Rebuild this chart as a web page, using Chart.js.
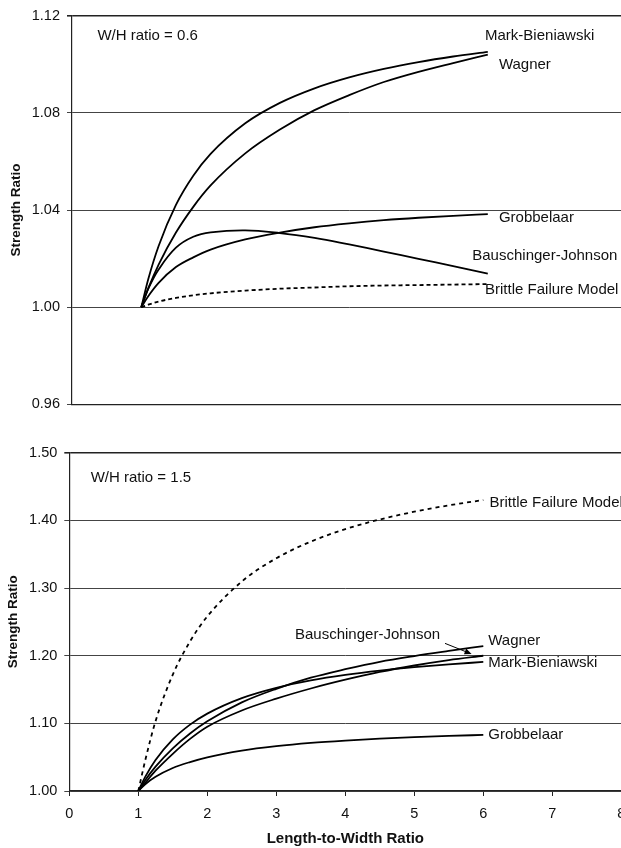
<!DOCTYPE html>
<html>
<head>
<meta charset="utf-8">
<script src="https://cdn.jsdelivr.net/npm/chart.js@4.4.0/dist/chart.umd.min.js"></script>
<style>
html,body{margin:0;padding:0;overflow:hidden;background:#fff;width:621px;height:848px;}
#c1{position:absolute;left:0;top:0;}
#c2{position:absolute;left:0;top:420px;}
</style>
</head>
<body>
<canvas id="c1" width="640" height="420"></canvas>
<canvas id="c2" width="640" height="428"></canvas>
<script>
// ---- data ----
const lengthToWidth = [1, 1.1, 1.25, 1.5, 1.75, 2, 2.5, 3, 3.5, 4, 4.5, 5, 5.5, 6];

// W/H ratio = 0.6
const markBieniawski06 = [1.000, 1.0115, 1.0252, 1.0421, 1.0541, 1.0631, 1.0757, 1.0841, 1.0901, 1.0946, 1.0981, 1.1009, 1.1032, 1.1051];
const wagner06         = [1.000, 1.0077, 1.0175, 1.0307, 1.0413, 1.0501, 1.0633, 1.0731, 1.0811, 1.0873, 1.0927, 1.0969, 1.1005, 1.1040];
const grobbelaar06     = [1.000, 1.0045, 1.0100, 1.0165, 1.0205, 1.0237, 1.0279, 1.0307, 1.0329, 1.0345, 1.0358, 1.0368, 1.0376, 1.0383];
const bauschJohnson06  = [1.000, 1.0075, 1.0155, 1.0245, 1.0290, 1.0308, 1.0316, 1.0305, 1.0285, 1.0258, 1.0229, 1.0199, 1.0169, 1.0138];
const brittle06        = [1.000, 1.0010, 1.0023, 1.0038, 1.0049, 1.0057, 1.0068, 1.0076, 1.0081, 1.0086, 1.0089, 1.0091, 1.0093, 1.0095];

// W/H ratio = 1.5
const markBieniawski15 = [1.000, 1.0208, 1.0458, 1.0763, 1.0981, 1.1144, 1.1373, 1.1525, 1.1634, 1.1716, 1.1780, 1.1830, 1.1872, 1.1907];
const wagner15         = [1.000, 1.016, 1.036, 1.063, 1.085, 1.103, 1.131, 1.151, 1.1675, 1.180, 1.191, 1.1995, 1.207, 1.2142];
const bauschJohnson15  = [1.000, 1.012, 1.030, 1.055, 1.077, 1.095, 1.119, 1.1365, 1.1515, 1.1645, 1.176, 1.1855, 1.1935, 1.1999];
const grobbelaar15     = [1.000, 1.010, 1.021, 1.034, 1.0428, 1.0498, 1.0597, 1.0663, 1.0711, 1.0746, 1.0774, 1.0796, 1.0814, 1.0829];
const brittle15        = [1.000, 1.045, 1.1032, 1.172, 1.2211, 1.258, 1.3096, 1.344, 1.3686, 1.387, 1.4013, 1.4128, 1.4222, 1.430];

const xTicks = [0, 1, 2, 3, 4, 5, 6, 7, 8];
const yTicks06 = [0.96, 1.00, 1.04, 1.08, 1.12];
const yTicks15 = [1.00, 1.10, 1.20, 1.30, 1.40, 1.50];

// text annotations (anchored in data units)
const labels06 = [
  {text: 'W/H ratio = 0.6', x: 0.367, y: 1.1115},
  {text: 'Mark-Bieniawski', x: 5.96, y: 1.1115},
  {text: 'Wagner', x: 6.16, y: 1.0997},
  {text: 'Grobbelaar', x: 6.16, y: 1.0369},
  {text: 'Bauschinger-Johnson', x: 5.776, y: 1.0211},
  {text: 'Brittle Failure Model', x: 5.96, y: 1.0071}
];
const labels15 = [
  {text: 'W/H ratio = 1.5', x: 0.31, y: 1.4634},
  {text: 'Brittle Failure Model', x: 6.09, y: 1.4259},
  {text: 'Bauschinger-Johnson', x: 3.271, y: 1.2304},
  {text: 'Wagner', x: 6.072, y: 1.2216},
  {text: 'Mark-Bieniawski', x: 6.072, y: 1.1895},
  {text: 'Grobbelaar', x: 6.072, y: 1.0827}
];
const arrow15 = {from: [5.445, 1.2182], to: [5.83, 1.2025]};

// ---- drawing ----
const FONT = '"Liberation Sans", Arial, Helvetica, sans-serif';
Chart.defaults.font.family = FONT;
Chart.defaults.color = '#111';

function pts(ys) { return lengthToWidth.map((x, i) => ({x: x, y: ys[i]})); }
function ds(label, ys, dash, smooth) {
  const d = {label: label, data: pts(ys), borderColor: '#000', borderWidth: 1.8,
    borderDash: dash || [], pointRadius: 0, fill: false};
  if (smooth) { d.tension = 0.4; } else { d.cubicInterpolationMode = 'monotone'; }
  return d;
}

function textPlugin(list, arrow) {
  return {
    id: 'texts',
    afterDatasetsDraw(chart) {
      const ctx = chart.ctx, xs = chart.scales.x, ys = chart.scales.y;
      ctx.save();
      ctx.font = '15px ' + FONT;
      ctx.fillStyle = '#111';
      ctx.textAlign = 'left';
      ctx.textBaseline = 'middle';
      list.forEach(l => ctx.fillText(l.text, xs.getPixelForValue(l.x), ys.getPixelForValue(l.y)));
      if (arrow) {
        const x1 = xs.getPixelForValue(arrow.from[0]), y1 = ys.getPixelForValue(arrow.from[1]);
        const x2 = xs.getPixelForValue(arrow.to[0]), y2 = ys.getPixelForValue(arrow.to[1]);
        const a = Math.atan2(y2 - y1, x2 - x1);
        ctx.strokeStyle = '#000'; ctx.lineWidth = 1;
        ctx.beginPath(); ctx.moveTo(x1, y1); ctx.lineTo(x2 - 4 * Math.cos(a), y2 - 4 * Math.sin(a)); ctx.stroke();
        ctx.fillStyle = '#000';
        ctx.beginPath();
        ctx.moveTo(x2, y2);
        ctx.lineTo(x2 - 7 * Math.cos(a) + 3 * Math.sin(a), y2 - 7 * Math.sin(a) - 3 * Math.cos(a));
        ctx.lineTo(x2 - 7 * Math.cos(a) - 3 * Math.sin(a), y2 - 7 * Math.sin(a) + 3 * Math.cos(a));
        ctx.closePath(); ctx.fill();
      }
      ctx.restore();
    }
  };
}

function makeChart(id, sets, yt, opts) {
  const yMin = yt[0], yMax = yt[yt.length - 1];
  return new Chart(document.getElementById(id), {
    type: 'line',
    data: {datasets: sets},
    options: {
      responsive: false, animation: false, events: [],
      layout: {padding: opts.padding},
      plugins: {legend: {display: false}, tooltip: {enabled: false}},
      scales: {
        x: {
          type: 'linear', min: xTicks[0], max: xTicks[xTicks.length - 1],
          afterBuildTicks: s => { s.ticks = xTicks.map(v => ({value: v})); },
          afterFit: s => { s.height = opts.xHeight; },
          grid: {display: true, drawOnChartArea: false, drawTicks: opts.showX, tickLength: 5, color: '#222'},
          border: {display: true, color: '#222', width: 1.2},
          ticks: {display: opts.showX, padding: 9, font: {size: 14.5}, color: '#111', maxRotation: 0,
                  callback: v => String(v)},
          title: {display: opts.showX, text: 'Length-to-Width Ratio', font: {size: 15, weight: 'bold'},
                  color: '#111', padding: {top: 0, bottom: 0}}
        },
        y: {
          type: 'linear', min: yMin, max: yMax,
          afterBuildTicks: s => { s.ticks = yt.map(v => ({value: v})); },
          afterFit: s => { s.width = opts.yWidth; },
          grid: {color: c => (c.tick && Math.abs(c.tick.value - yMax) < 1e-9) ? '#222' : '#444',
                 lineWidth: c => (c.tick && Math.abs(c.tick.value - yMax) < 1e-9) ? 1.6 : 1,
                 tickLength: 5},
          border: {display: true, color: '#222', width: 1.2},
          ticks: {padding: 7, font: {size: 14.5}, color: '#111', callback: v => v.toFixed(2)},
          title: {display: true, text: 'Strength Ratio', font: {size: 13.5, weight: 'bold'},
                  color: '#111', padding: {top: opts.yTitlePad, bottom: 0}}
        }
      }
    },
    plugins: [textPlugin(opts.labels, opts.arrow)]
  });
}

makeChart('c1', [
  ds('Mark-Bieniawski', markBieniawski06),
  ds('Wagner', wagner06),
  ds('Grobbelaar', grobbelaar06),
  ds('Bauschinger-Johnson', bauschJohnson06, null, true),
  ds('Brittle Failure Model', brittle06, [4, 3])
], yTicks06, {padding: {top: 14, right: 13.6, bottom: 12.5, left: 0}, xHeight: 0, yWidth: 72,
              showX: false, yTitlePad: 8, labels: labels06, arrow: null});

makeChart('c2', [
  ds('Mark-Bieniawski', markBieniawski15),
  ds('Wagner', wagner15),
  ds('Grobbelaar', grobbelaar15),
  ds('Bauschinger-Johnson', bauschJohnson15),
  ds('Brittle Failure Model', brittle15, [4, 4])
], yTicks15, {padding: {top: 32.7, right: 18.7, bottom: 0, left: 0}, xHeight: 57, yWidth: 69.3,
              showX: true, yTitlePad: 5.5, labels: labels15, arrow: arrow15});
</script>
</body>
</html>
